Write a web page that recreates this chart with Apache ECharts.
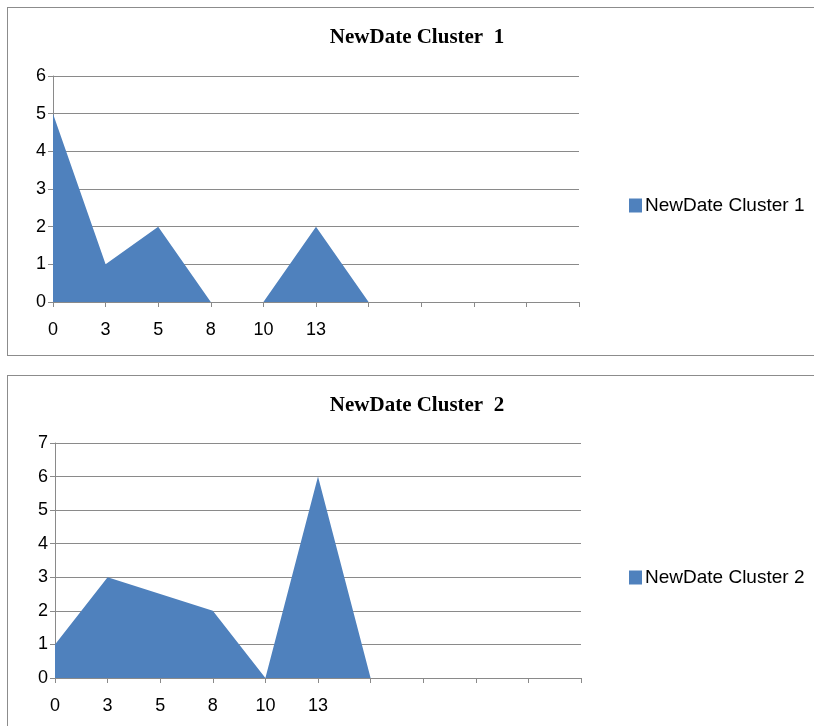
<!DOCTYPE html>
<html>
<head>
<meta charset="utf-8">
<script src="https://cdn.jsdelivr.net/npm/echarts@6/dist/echarts.min.js"></script>
<style>
  html, body { margin: 0; padding: 0; background: #fff; width: 814px; height: 726px; overflow: hidden; }
  .box { position: absolute; left: 7px; width: 820px; border: 1px solid #8c8c8c; box-sizing: border-box; background: #fff; }
  #c1 { top: 7px; height: 349px; }
  #c2 { top: 375px; height: 360px; }
</style>
</head>
<body>
<div id="c1" class="box"></div>
<div id="c2" class="box"></div>
<script>
// 横轴类别（后五个为空白类别，只画刻度）
const categories = ['0', '3', '5', '8', '10', '13', '', '', '', '', ''];
// 两个聚类的数值
const cluster1 = [5, 1, 2, 0, 0, 2, 0, null, null, null, null];
const cluster2 = [1, 3, 2.5, 2, 0, 6, 0, null, null, null, null];
const titles = ['NewDate Cluster  1', 'NewDate Cluster  2'];
const names = ['NewDate Cluster 1', 'NewDate Cluster 2'];

const AREA = '#4f81bd';
const GRID_LINE = '#8a8a8a';
const SANS = '"Liberation Sans", sans-serif';

function makeOption(title, name, data, yMax, gridLeft, gridTop, gridH, legendTop) {
  return {
    animation: false,
    title: {
      text: title,
      left: 'center', top: 14,
      textStyle: { fontFamily: 'Liberation Serif', fontWeight: 'bold', fontSize: 21, color: '#000' },
    },
    legend: {
      data: [name],
      left: 616, top: legendTop, orient: 'vertical',
      icon: 'rect', itemWidth: 13, itemHeight: 14, itemGap: 4,
      textStyle: { fontFamily: SANS, fontSize: 19, color: '#000', padding: [0, 0, 0, -2] },
    },
    grid: { left: gridLeft, top: gridTop, width: 526, height: gridH, containLabel: false },
    xAxis: {
      type: 'category', data: categories, boundaryGap: false,
      axisLine: { lineStyle: { color: GRID_LINE, width: 1 } },
      axisTick: { show: true, interval: 0, length: 5, lineStyle: { color: GRID_LINE } },
      axisLabel: { interval: 0, margin: 19, fontFamily: SANS, fontSize: 18, color: '#000' },
      splitLine: { show: false },
    },
    yAxis: {
      type: 'value', min: 0, max: yMax, interval: 1,
      axisLine: { show: true, lineStyle: { color: GRID_LINE, width: 1 } },
      axisTick: { show: true, length: 5, lineStyle: { color: GRID_LINE } },
      axisLabel: { margin: 7, fontFamily: SANS, fontSize: 18, color: '#000' },
      splitLine: { show: true, lineStyle: { color: GRID_LINE, width: 1 } },
    },
    series: [{
      name: name,
      type: 'line', data: data,
      showSymbol: false, symbol: 'none',
      lineStyle: { width: 0, color: AREA },
      itemStyle: { color: AREA },
      areaStyle: { color: AREA, opacity: 1 },
    }],
  };
}

echarts.init(document.getElementById('c1')).setOption(makeOption(titles[0], names[0], cluster1, 6, 45, 68, 226, 183));
echarts.init(document.getElementById('c2')).setOption(makeOption(titles[1], names[1], cluster2, 7, 47, 67, 235, 187));
</script>
</body>
</html>
